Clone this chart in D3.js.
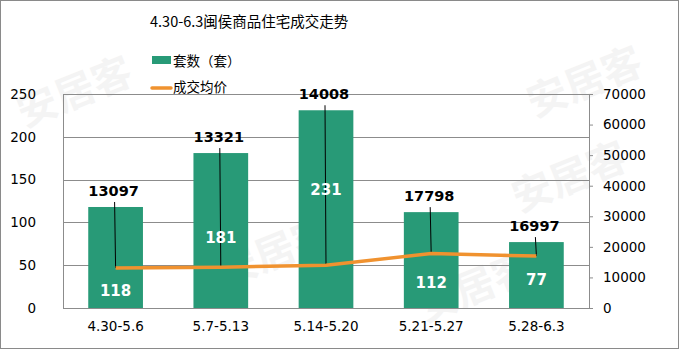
<!DOCTYPE html>
<html><head><meta charset="utf-8">
<script src="https://cdn.jsdelivr.net/npm/d3@7"></script>
<style>body{margin:0;background:#fff}svg{display:block}</style>
</head><body><svg id="c" width="679" height="349"></svg>
<script>
const categories = ["4.30-5.6","5.7-5.13","5.14-5.20","5.21-5.27","5.28-6.3"];
const units = [118,181,231,112,77];
const avgPrice = [13097,13321,14008,17798,16997];
const leftTicks = [0,50,100,150,200,250];
const rightTicks = [0,10000,20000,30000,40000,50000,60000,70000];
const unitLabelAt = [20,82,138,30,33];

const svg = d3.select("#c");
const W=679,H=349, m={l:63,r:90,t:94,b:41};
const font = "Tahoma, 'DejaVu Sans', 'Noto Sans CJK SC', sans-serif";
const cjk = "'Noto Sans CJK SC', sans-serif";
const GREEN="#289A77", ORANGE="#F0922F";

svg.append("rect").attr("x",0.5).attr("y",0.5).attr("width",W-1).attr("height",H-1).attr("fill","#fff").attr("stroke","#8a8a8a");

// watermarks
const wm=[[80,105],[280,265],[590,95],[575,190],[480,300]];
wm.forEach(([x,y])=>svg.append("text").attr("transform",`translate(${x},${y}) rotate(-22)`).attr("text-anchor","middle")
  .attr("font-family",cjk).attr("font-weight","bold").attr("font-size",40).attr("fill","#000").attr("opacity",0.04).text("安居客"));

const x = d3.scaleBand().domain(categories).range([m.l, W-m.r]).paddingInner(0.48).paddingOuter(0.24);
const yL = d3.scaleLinear().domain([0,250]).range([H-m.b, m.t]);
const yR = d3.scaleLinear().domain([0,70000]).range([H-m.b, m.t]);
const cx = d => x(d)+x.bandwidth()/2;

// grid
svg.append("g").selectAll("line").data(leftTicks).join("line")
  .attr("x1",m.l).attr("x2",W-m.r).attr("y1",d=>Math.round(yL(d))+0.5).attr("y2",d=>Math.round(yL(d))+0.5)
  .attr("stroke","#8c8c8c").attr("stroke-width",1);

// left axis
const gl = svg.append("g").attr("transform",`translate(${m.l},0)`)
  .call(d3.axisLeft(yL).tickValues(leftTicks).tickSize(0).tickPadding(27));
gl.select(".domain").attr("stroke","#8c8c8c");
gl.selectAll("text").attr("font-family",font).attr("font-size",13.5).attr("fill","#000");

// right axis
const gr = svg.append("g").attr("transform",`translate(${W-m.r},0)`)
  .call(d3.axisRight(yR).tickValues(rightTicks).tickSize(4).tickPadding(10).tickFormat(d3.format("d")));
gr.select(".domain").attr("stroke","#8c8c8c");
gr.selectAll("line").attr("stroke","#8c8c8c");
gr.selectAll("text").attr("font-family",font).attr("font-size",13.5).attr("fill","#000");

// x axis labels
const gx = svg.append("g").attr("transform",`translate(0,${H-m.b})`)
  .call(d3.axisBottom(x).tickSize(0).tickPadding(13));
gx.select(".domain").remove();
gx.selectAll("text").attr("font-family",font).attr("font-size",13.5).attr("fill","#000");

// bars
svg.append("g").selectAll("rect").data(units).join("rect")
  .attr("x",(d,i)=>x(categories[i])).attr("width",x.bandwidth())
  .attr("y",d=>yL(d)).attr("height",d=>yL(0)-yL(d)).attr("fill",GREEN);

// leader lines
svg.append("g").selectAll("line").data(avgPrice).join("line")
  .attr("x1",(d,i)=>cx(categories[i])-1).attr("x2",(d,i)=>cx(categories[i]))
  .attr("y1",(d,i)=>yL(units[i])-5).attr("y2",d=>yR(d))
  .attr("stroke","#000").attr("stroke-width",1);

// line
svg.append("path").datum(avgPrice)
  .attr("d",d3.line().x((d,i)=>cx(categories[i])).y(d=>yR(d)))
  .attr("fill","none").attr("stroke",ORANGE).attr("stroke-width",3.5);

// bar labels
svg.append("g").selectAll("text").data(units).join("text")
  .attr("x",(d,i)=>cx(categories[i])).attr("y",(d,i)=>yL(unitLabelAt[i])).attr("dy","0.35em")
  .attr("text-anchor","middle").attr("font-family",font).attr("font-weight","bold").attr("font-size",15)
  .attr("fill","#fff").text(d=>d);

// price labels
svg.append("g").selectAll("text").data(avgPrice).join("text")
  .attr("x",(d,i)=>cx(categories[i])-2).attr("y",(d,i)=>yL(units[i])-16).attr("dy","0.35em")
  .attr("text-anchor","middle").attr("font-family",font).attr("font-weight","bold").attr("font-size",14.5)
  .attr("fill","#000").text(d=>d);

// title
svg.append("text").attr("x",150).attr("y",27).attr("font-family",cjk).attr("font-size",14.5).attr("fill","#000")
  .text("4.30-6.3闽侯商品住宅成交走势");

// legend
svg.append("rect").attr("x",152).attr("y",56).attr("width",19).attr("height",8).attr("fill",GREEN);
svg.append("text").attr("x",173).attr("y",61).attr("dy","0.35em").attr("font-family",cjk).attr("font-size",13.5).text("套数（套）");
svg.append("line").attr("x1",152).attr("x2",171).attr("y1",88).attr("y2",88).attr("stroke",ORANGE).attr("stroke-width",3.5).attr("stroke-linecap","round");
svg.append("text").attr("x",173).attr("y",87).attr("dy","0.35em").attr("font-family",cjk).attr("font-size",13.5).text("成交均价");
</script></body></html>
